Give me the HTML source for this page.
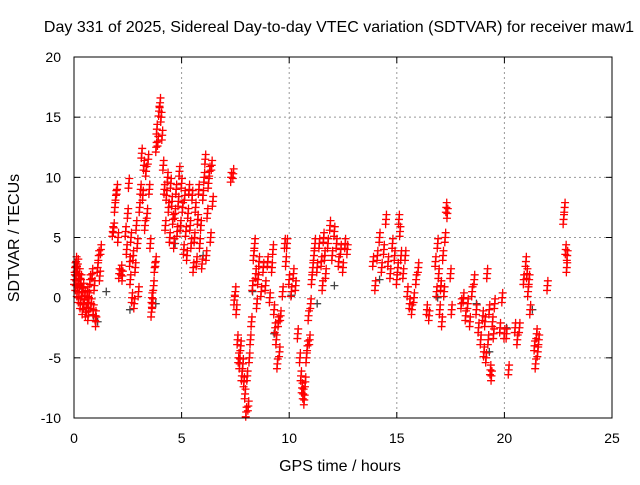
<!DOCTYPE html>
<html><head><meta charset="utf-8"><style>
body{margin:0;background:#fff}
svg text{font-family:"Liberation Sans",sans-serif;font-size:14px;fill:#000}
svg text.big{font-size:16px}
</style></head><body>
<svg id="chart" width="640" height="480">
<text class="big" x="339" y="32" text-anchor="middle">Day 331 of 2025, Sidereal Day-to-day VTEC variation (SDTVAR) for receiver maw1</text>
<text class="big" x="340" y="471" text-anchor="middle">GPS time / hours</text>
<text class="big" transform="translate(19,238) rotate(-90)" text-anchor="middle">SDTVAR / TECUs</text>
<g id="grid"></g><g id="axes"></g><g id="marks"></g>
<rect x="74" y="57" width="538" height="361" fill="none" stroke="#000" stroke-width="1"/>
</svg>
<script>
const xTicks=[0,5,10,15,20,25];
const yTicks=[-10,-5,0,5,10,15,20];
const redPoints=[[0.02,1.5],[0.05,2.5],[0.08,1.0],[0.1,3.0],[0.12,2.2],[0.15,0.5],[0.18,2.8],[0.2,1.5],[0.22,0.0],[0.25,2.0],[0.28,1.2],[0.3,-0.5],[0.33,1.5],[0.36,0.5],[0.4,-1.0],[0.43,0.8],[0.46,-0.5],[0.5,0.2],[0.55,-1.2],[0.6,-0.8],[0.63,0.5],[0.66,-1.5],[0.7,0.0],[0.75,1.5],[0.8,-0.5],[0.85,2.0],[0.9,-1.0],[0.95,1.0],[1.0,-1.5],[1.02,-2.0],[1.1,2.5],[1.15,3.5],[1.2,1.8],[1.25,4.0],
[1.8,5.5],[1.85,5.8],[1.9,7.5],[1.95,8.5],[2.0,9.0],[2.05,5.0],[2.1,2.0],[2.2,2.3],[2.25,1.8],[2.4,5.5],[2.45,4.0],[2.5,7.0],[2.55,9.5],[2.6,3.0],[2.62,1.5],[2.65,5.0],[2.7,0.0],[2.75,3.5],[2.8,-0.5],[2.85,2.5],[2.9,6.0],[2.95,4.5],[3.0,0.5],[3.05,7.5],[3.1,9.0],[3.15,12.0],[3.2,8.5],[3.25,11.0],[3.3,6.0],[3.35,10.5],[3.4,7.0],[3.45,11.5],[3.5,9.0],[3.55,4.5],
[3.6,-1.2],[3.62,0.0],[3.65,-0.5],[3.7,1.0],[3.75,2.5],[3.8,3.0],[3.82,12.5],[3.85,14.0],[3.9,13.0],[3.95,15.5],[4.0,16.2],[4.05,15.0],[4.1,13.5],[4.15,11.0],[4.2,9.0],[4.25,6.0],[4.3,8.5],[4.35,10.0],[4.4,7.5],[4.45,5.0],[4.5,9.5],[4.55,8.0],[4.6,6.5],[4.65,4.5],[4.7,7.0],[4.75,9.0],[4.8,5.5],[4.85,8.0],[4.9,10.5],[4.95,6.0],[5.0,9.5],[5.05,7.5],[5.1,4.0],[5.15,8.5],[5.2,5.5],[5.25,3.5],[5.3,7.0],[5.35,9.0],[5.4,6.0],[5.45,4.5],[5.5,8.5],[5.55,2.5],[5.6,5.0],[5.65,7.5],[5.7,3.0],[5.75,6.5],[5.8,9.0],[5.85,4.5],[5.9,6.0],[5.95,2.8],[6.0,8.5],[6.05,10.0],[6.1,11.5],[6.15,3.5],[6.2,7.0],[6.25,9.5],[6.3,10.5],[6.35,5.0],[6.4,11.0],[6.45,8.0],
[7.3,10.0],[7.4,10.3],[7.45,-0.2],[7.5,0.5],[7.55,-1.0],[7.6,-3.5],[7.65,-5.0],[7.7,-5.5],[7.75,-4.0],[7.8,-6.5],[7.85,-5.5],[7.9,-7.0],[7.95,-8.0],[8.0,-9.5],[8.05,-6.5],[8.1,-9.0],[8.15,-5.0],[8.2,-3.5],[8.25,-2.0],[8.3,1.0],[8.35,3.5],[8.4,4.5],[8.45,2.0],[8.5,-0.5],[8.55,1.5],[8.6,3.0],[8.7,0.5],[8.8,2.5],[8.9,1.0],[9.0,3.0],[9.1,0.0],[9.2,2.5],[9.25,4.0],[9.3,-1.0],[9.35,-2.5],[9.4,-3.5],[9.45,-5.5],[9.5,-2.0],[9.55,-4.5],[9.6,-1.5],[9.7,0.5],[9.8,4.5],[9.85,3.0],[9.9,4.5],[10.0,1.5],[10.1,0.5],[10.2,2.0],[10.3,1.0],[10.4,-3.0],[10.5,-5.0],[10.55,-6.5],[10.6,-7.5],[10.65,-8.0],[10.7,-8.5],[10.75,-7.0],[10.8,-5.0],[10.85,-4.0],[10.9,-1.5],[10.95,-3.5],[11.0,-0.5],[11.05,1.5],[11.1,2.5],[11.15,3.5],[11.2,4.5],[11.3,2.5],[11.4,4.5],[11.5,3.0],[11.55,1.0],[11.6,5.0],[11.65,3.5],[11.7,2.0],[11.8,4.5],[11.9,6.0],[12.0,3.5],[12.1,5.5],[12.2,4.5],[12.3,3.0],[12.4,4.0],[12.5,2.5],[12.6,4.5],[12.7,4.0],
[13.9,3.0],[14.0,1.0],[14.1,3.5],[14.2,5.0],[14.3,2.5],[14.4,4.0],[14.5,6.5],[14.6,3.0],[14.7,2.0],[14.8,4.5],[14.9,3.5],[15.0,1.5],[15.05,2.5],[15.1,6.5],[15.15,5.5],[15.2,3.5],[15.3,2.0],[15.4,3.5],[15.5,0.5],[15.6,-0.5],[15.7,-1.0],[15.8,0.0],[15.9,1.5],[16.0,2.5],[16.4,-1.0],[16.5,-1.5],[16.8,3.0],[16.85,0.5],[16.9,4.5],[16.95,2.0],[17.0,-1.0],[17.05,1.0],[17.1,-2.0],[17.15,3.5],[17.2,0.5],[17.25,5.0],[17.3,7.5],[17.35,7.0],[17.5,2.0],[17.55,-1.0],
[18.0,-0.5],[18.1,0.0],[18.2,-1.5],[18.3,-0.5],[18.4,-2.0],[18.5,0.5],[18.6,1.5],[18.7,-1.0],[18.8,-2.5],[18.9,-3.5],[19.0,-1.5],[19.05,-4.5],[19.1,-2.0],[19.15,-5.0],[19.2,2.0],[19.25,-3.5],[19.3,-1.0],[19.35,-6.0],[19.4,-6.5],[19.45,-2.0],[19.5,-3.0],[19.55,-0.5],[19.8,-2.5],[19.9,0.0],[20.0,-3.0],[20.1,-3.0],[20.2,-6.0],[20.5,-2.5],[20.6,-3.5],[20.7,-2.5],[20.9,1.5],[21.0,3.0],[21.05,2.0],[21.1,0.5],[21.15,1.5],[21.2,-1.0],[21.4,-4.0],[21.45,-5.5],[21.5,-3.0],[21.55,-4.5],[21.6,-3.5],[22.0,1.0],[22.75,6.5],[22.8,7.5],[22.85,4.0],[22.9,2.5],[22.92,3.5]];
const grayPoints=[[0.3,1.0],[0.9,-1.5],[1.1,-2.0],[1.5,0.5],[2.6,-1.0],[3.8,-0.5],[4.7,4.5],[6.0,3.5],[8.3,0.5],[9.3,-3.0],[10.1,0.2],[11.3,-0.5],[12.1,1.0],[14.2,1.5],[16.9,0.0],[18.7,-0.5],[19.3,-4.5],[20.1,-2.5],[21.3,-1.0]];
const X0=74,X1=612,Y0=418,Y1=57;
const xs=t=>X0+t/25*(X1-X0);
const ys=v=>Y0-(v+10)/30*(Y0-Y1);
const NS='http://www.w3.org/2000/svg';
const grid=document.getElementById('grid'),axes=document.getElementById('axes'),marks=document.getElementById('marks');
function mk(tag,at,p){const e=document.createElementNS(NS,tag);for(const k in at)e.setAttribute(k,at[k]);p.appendChild(e);return e;}
xTicks.forEach(t=>{const x=xs(t);
 if(t>0&&t<25){const g=mk('line',{x1:x,x2:x,y1:Y1,y2:Y0,stroke:'#999','stroke-dasharray':'2,3','stroke-width':1},grid);}
 mk('line',{x1:x,x2:x,y1:Y0,y2:Y0-6,stroke:'#000'},axes);mk('line',{x1:x,x2:x,y1:Y1,y2:Y1+6,stroke:'#000'},axes);
 const l=mk('text',{x:x,y:443,'text-anchor':'middle'},axes);l.textContent=t;
 
 });
yTicks.forEach(v=>{const y=ys(v);
 if(v>-10&&v<20){const g=mk('line',{x1:X0,x2:X1,y1:y,y2:y,stroke:'#999','stroke-dasharray':'2,3','stroke-width':1},grid);}
 mk('line',{x1:X0,x2:X0+6,y1:y,y2:y,stroke:'#000'},axes);mk('line',{x1:X1,x2:X1-6,y1:y,y2:y,stroke:'#000'},axes);
 const l=mk('text',{x:61,y:y+5,'text-anchor':'end'},axes);l.textContent=v;
 
 });
function plus(t,v,c,name){const x=xs(t),y=ys(v);
 const p=mk('path',{d:`M${x-4},${y}H${x+4}M${x},${y-4}V${y+4}`,stroke:c,'stroke-width':1.3,fill:'none'},marks);
 
 }
grayPoints.forEach(p=>plus(p[0],p[1],'#444','gray-point'));
redPoints.forEach(p=>{plus(p[0],p[1],'#f00','sdtvar-point');plus(p[0]+0.02,p[1]+0.4,'#f00','sdtvar-point');plus(p[0]-0.02,p[1]-0.4,'#f00','sdtvar-point');});
</script>
</body></html>
